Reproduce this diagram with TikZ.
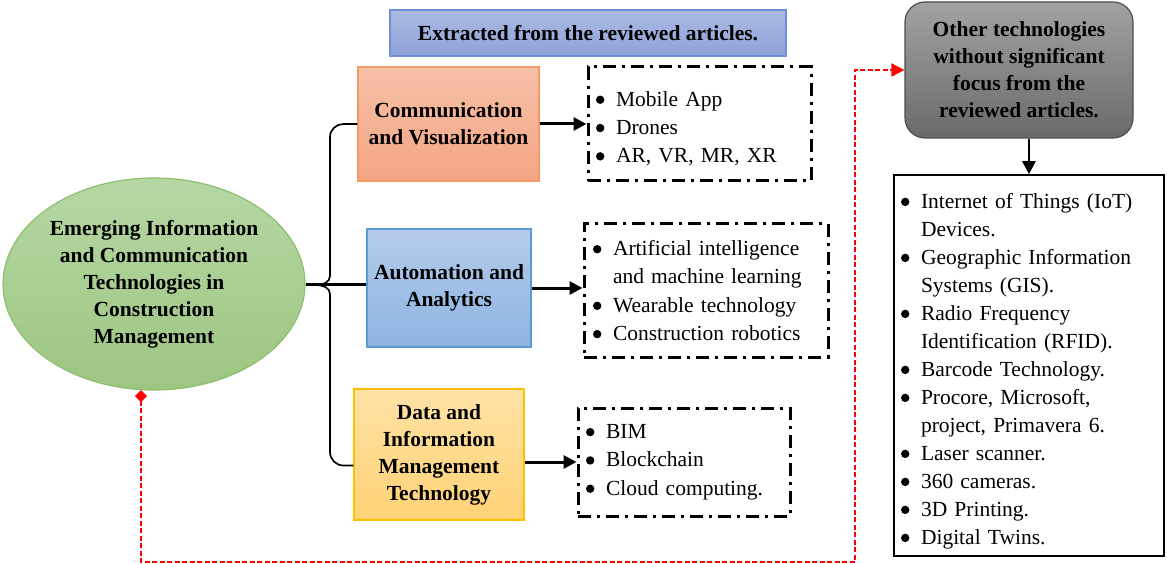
\documentclass[tikz,border=0pt]{standalone}
\usepackage{fontspec}
\setmainfont{Liberation Serif}
\usetikzlibrary{arrows.meta,calc,shapes.geometric}

\definecolor{greenTop}{HTML}{B6D7A4}
\definecolor{greenBot}{HTML}{9CC681}
\definecolor{greenLine}{HTML}{8DBF6E}
\definecolor{salmonTop}{HTML}{F6C0A8}
\definecolor{salmonBot}{HTML}{F4A583}
\definecolor{salmonLine}{HTML}{F39A66}
\definecolor{blueTop}{HTML}{B4CCEA}
\definecolor{blueBot}{HTML}{8DB3E2}
\definecolor{blueLine}{HTML}{5B9BD5}
\definecolor{goldTop}{HTML}{FFE2A6}
\definecolor{goldBot}{HTML}{FFD275}
\definecolor{goldLine}{HTML}{FFC000}
\definecolor{lavTop}{HTML}{ACBAE3}
\definecolor{lavBot}{HTML}{8EA3D9}
\definecolor{lavLine}{HTML}{6E8FD6}
\definecolor{greyTop}{HTML}{A2A2A2}
\definecolor{greyBot}{HTML}{6A6A6A}
\definecolor{greyLine}{HTML}{4D4D4D}

% round bullet, item line and continuation line
\newcommand\bdot{\tikz[baseline=0pt]\fill (4.2pt,6.3pt) circle[radius=4.2pt];}
\newcommand\bitem[1]{\makebox[20pt][l]{\bdot}#1}
\newcommand\bcont[1]{\hspace*{20pt}#1}
% taller first line pushes a list slightly down in its box
\newcommand\toppad[1]{\rule{0pt}{#1}}

\begin{document}
\begin{tikzpicture}[x=1pt,y=-1pt,
  every node/.style={inner sep=0pt},
  hd/.style={font=\bfseries\fontsize{21.5}{27}\selectfont, align=center},
  lst/.style={draw, line width=3pt, dash pattern=on 13pt off 6pt on 3pt off 6pt,
    font=\fontsize{21.5}{28.3}\selectfont, align=left, inner xsep=8pt, inner ysep=0pt},
  link/.style={line width=3pt, -{Triangle[length=13pt,width=13pt]}},
  bracel/.style={line width=1.7pt},
  reddash/.style={red, line width=2pt, dash pattern=on 5pt off 2.5pt}]

\fill[white] (0,0) rectangle (1167,564);
\useasboundingbox (0,0) rectangle (1167,564);

% banner
\node[hd, draw=lavLine, line width=1.2pt, top color=lavTop, bottom color=lavBot,
  minimum width=396, minimum height=46] (ext) at (588,33)
  {Extracted from the reviewed articles.};

% central topic
\node[hd, ellipse, draw=greenLine, line width=1.2pt, top color=greenTop, bottom color=greenBot,
  minimum width=302, minimum height=212] (ell) at (154,284)
  {Emerging Information\\and Communication\\Technologies in\\Construction\\Management};

% categories
\node[hd, draw=salmonLine, line width=1.2pt, top color=salmonTop, bottom color=salmonBot,
  minimum width=181, minimum height=114] (comm) at (448.5,124)
  {Communication\\and Visualization};
\node[hd, draw=blueLine, line width=1.2pt, top color=blueTop, bottom color=blueBot,
  minimum width=164, minimum height=118] (auto) at (449,288)
  {Automation and\\Analytics};
\node[hd, draw=goldLine, line width=1.2pt, top color=goldTop, bottom color=goldBot,
  minimum width=170, minimum height=131] (data) at (439,454.5)
  {Data and\\Information\\Management\\Technology};

% item lists
\node[lst, text width=207, minimum height=114] (l1) at (699.5,124)
  {\toppad{24pt}\bitem{Mobile App}\\\bitem{Drones}\\\bitem{AR, VR, MR, XR}};
\node[lst, inner xsep=9pt, text width=226, minimum height=133] (l2) at (706,290.5)
  {\bitem{Artificial intelligence}\\\bcont{and machine learning}\\\bitem{Wearable technology}\\\bitem{Construction robotics}};
\node[lst, text width=196, minimum height=108] (l3) at (684,462)
  {\bitem{BIM}\\\bitem{Blockchain}\\\bitem{Cloud computing.}};

% other technologies
\node[hd, draw=greyLine, line width=1.2pt, rounded corners=20pt, top color=greyTop, bottom color=greyBot,
  minimum width=228, minimum height=136] (grey) at (1019,70)
  {Other technologies\\without significant\\focus from the\\reviewed articles.};
\node[draw, line width=1.6pt, font=\fontsize{21.5}{28}\selectfont, align=left,
  inner xsep=7pt, text width=256, minimum height=381] (rl) at (1029,365.5)
  {\toppad{26pt}\bitem{Internet of Things (IoT)}\\\bcont{Devices.}\\
   \bitem{Geographic Information}\\\bcont{Systems (GIS).}\\
   \bitem{Radio Frequency}\\\bcont{Identification (RFID).}\\
   \bitem{Barcode Technology.}\\
   \bitem{Procore, Microsoft,}\\\bcont{project, Primavera 6.}\\
   \bitem{Laser scanner.}\\
   \bitem{360 cameras.}\\
   \bitem{3D Printing.}\\
   \bitem{Digital Twins.}};

% brace joining the categories
\draw[bracel] (comm.west) -- ++(-14,0) to[out=180,in=90] (330,137) -- (330,276)
  to[out=-90,in=0] (316,285) to[out=0,in=90] (330,294) -- (330,452)
  to[out=-90,in=180] ($(data.west)+(-10,11)$) -- ($(data.west)+(0,11)$);
\draw[line width=3pt] (ell.east) -- (ell.east -| auto.west);

% arrows to the lists
\draw[link] (comm.east) -- (comm.east -| l1.west);
\draw[link] (auto.east) -- (auto.east -| l2.west);
\draw[link] (data.east |- l3.west) -- (l3.west);
\draw[link, line width=2.6pt] (rl.north |- grey.south) -- (rl.north);

% dashed link to other technologies
\coordinate (rb) at (855,562);
\draw[reddash, {Diamond[length=12pt,width=12pt]}-{Triangle[length=13pt,width=13pt]}]
  (ell.-97) |- (rb) |- (grey.west);
\end{tikzpicture}
\end{document}
